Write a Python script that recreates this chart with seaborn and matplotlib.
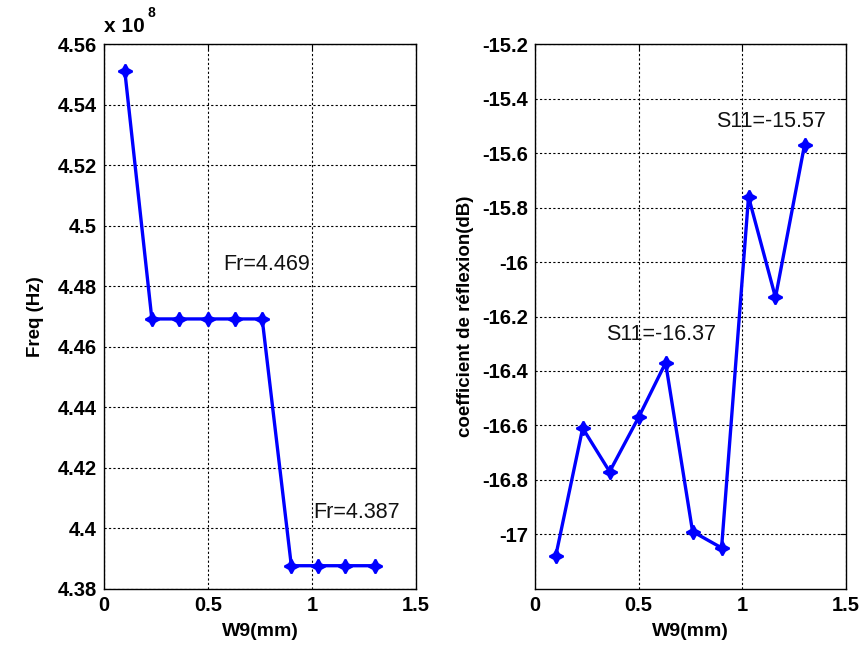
import numpy as np
import pandas as pd
import matplotlib
matplotlib.use("Agg")
import matplotlib.pyplot as plt
import seaborn as sns

# ---- data ----
w9_mm = [0.10, 0.23, 0.36, 0.50, 0.63, 0.76, 0.90, 1.03, 1.16, 1.30]
freq_e8 = [4.5512, 4.4692, 4.4692, 4.4692, 4.4692, 4.4692, 4.3876, 4.3876, 4.3876, 4.3876]
s11_db = [-17.08, -16.61, -16.77, -16.57, -16.37, -16.99, -17.05, -15.76, -16.13, -15.57]

freq_ticks = [4.38, 4.40, 4.42, 4.44, 4.46, 4.48, 4.50, 4.52, 4.54, 4.56]
freq_ticklabels = ["4.38", "4.4", "4.42", "4.44", "4.46", "4.48", "4.5", "4.52", "4.54", "4.56"]
s11_ticks = [-17.0, -16.8, -16.6, -16.4, -16.2, -16.0, -15.8, -15.6, -15.4, -15.2]
s11_ticklabels = ["-17", "-16.8", "-16.6", "-16.4", "-16.2", "-16", "-15.8", "-15.6", "-15.4", "-15.2"]
x_ticks = [0, 0.5, 1.0, 1.5]
x_ticklabels = ["0", "0.5", "1", "1.5"]

df = pd.DataFrame({"w9": w9_mm, "freq": freq_e8, "s11": s11_db})

sns.set_style("white")
plt.rcParams["font.family"] = ["Liberation Sans", "DejaVu Sans"]
plt.rcParams["text.color"] = "black"
plt.rcParams["axes.labelcolor"] = "black"
plt.rcParams["xtick.color"] = "black"
plt.rcParams["ytick.color"] = "black"

fig = plt.figure(figsize=(8.65, 6.48), dpi=100)
ax1 = fig.add_axes([0.1202, 0.0915, 0.3610, 0.8401])
ax2 = fig.add_axes([0.6185, 0.0915, 0.3595, 0.8401])

marker = (4, 1, 0)
for ax, col in [(ax1, "freq"), (ax2, "s11")]:
    sns.lineplot(data=df, x="w9", y=col, ax=ax, color="#0000ff", linewidth=2.4,
                 marker=marker, markersize=10, markeredgecolor="#0000ff",
                 markerfacecolor="#0000ff", markeredgewidth=1.5)

def style(ax, yticks, yticklabels, ylim):
    ax.set_xlim(0, 1.5)
    ax.set_ylim(*ylim)
    ax.set_xticks(x_ticks)
    ax.set_xticklabels(x_ticklabels)
    ax.set_yticks(yticks)
    ax.set_yticklabels(yticklabels)
    ax.grid(True, color="black", linestyle=(0, (2, 2)), linewidth=0.8)
    ax.tick_params(direction="in", top=True, right=True, length=4, width=0.8,
                   labelsize=14.5, pad=5, colors="black")
    for lab in ax.get_xticklabels() + ax.get_yticklabels():
        lab.set_fontweight("bold")
    for sp in ax.spines.values():
        sp.set_color("black")
        sp.set_linewidth(1.0)
    ax.set_xlabel("W9(mm)", fontsize=14, fontweight="bold", labelpad=6)

style(ax1, freq_ticks, freq_ticklabels, (4.38, 4.56))
style(ax2, s11_ticks, s11_ticklabels, (-17.2, -15.2))

ax1.set_ylabel("Freq (Hz)", fontsize=13.5, fontweight="bold", labelpad=10)
ax2.set_ylabel("coefficient de réflexion(dB)", fontsize=13.5, fontweight="bold", labelpad=6)

ax1.text(0.0, 1.015, "x 10", transform=ax1.transAxes, fontsize=15, fontweight="bold",
         ha="left", va="bottom")
ax1.text(0.138, 1.045, "8", transform=ax1.transAxes, fontsize=10, fontweight="bold",
         ha="left", va="bottom")

ax1.text(0.572, 4.4873, "Fr=4.469", fontsize=15.5, ha="left", va="center", color="#111111")
ax1.text(1.005, 4.4052, "Fr=4.387", fontsize=15.5, ha="left", va="center", color="#111111")
ax2.text(0.873, -15.484, "S11=-15.57", fontsize=15.5, ha="left", va="center", color="#111111")
ax2.text(0.342, -16.266, "S11=-16.37", fontsize=15.5, ha="left", va="center", color="#111111")

fig.savefig("out.png", dpi=100, facecolor="white")
